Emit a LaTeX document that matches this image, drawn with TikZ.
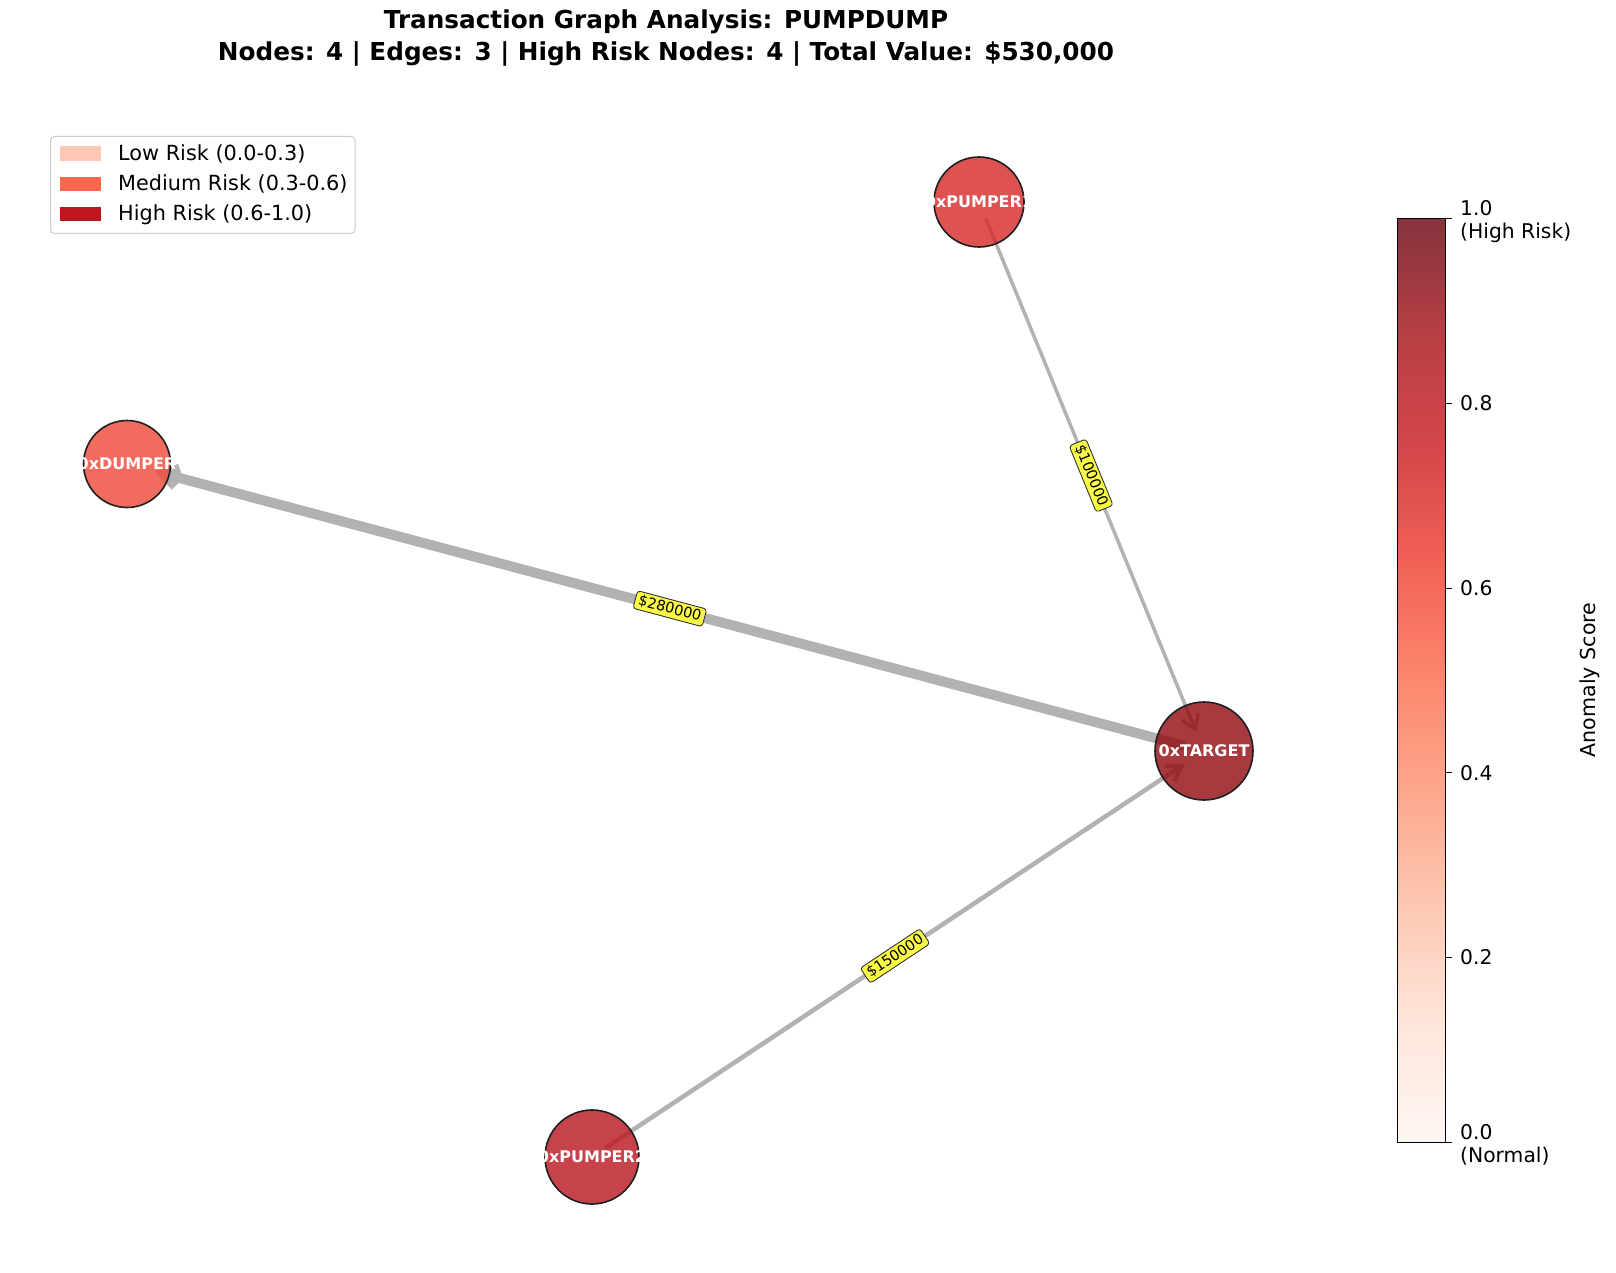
\documentclass[tikz,border=0pt]{standalone}
\usepackage{fontspec}
\setmainfont{DejaVu Sans}
\usetikzlibrary{arrows.meta,calc}
\pgfdeclarelayer{edges}
\pgfsetlayers{edges,main}

% Reds colour map, seen through alpha 0.8
\definecolor{rd0}{RGB}{255,247,243}
\definecolor{rd1}{RGB}{254,230,219}
\definecolor{rd2}{RGB}{253,201,180}
\definecolor{rd3}{RGB}{253,168,142}
\definecolor{rd4}{RGB}{252,136,110}
\definecolor{rd5}{RGB}{242,98,86}
\definecolor{rd6}{RGB}{213,70,74}
\definecolor{rd7}{RGB}{183,63,68}
\definecolor{rd8}{RGB}{133,51,61}
\definecolor{edgegray}{RGB}{178,178,178}
\definecolor{legendgray}{RGB}{204,204,204}
\definecolor{tagyellow}{RGB}{250,250,70}
\definecolor{lowrisk}{RGB}{252,200,180}
\definecolor{medrisk}{RGB}{254,102,77}
\definecolor{highrisk}{RGB}{190,22,30}
\definecolor{colTarget}{RGB}{146,9,16}
\definecolor{colPumperA}{RGB}{216,39,39}
\definecolor{colPumperB}{RGB}{186,20,30}
\definecolor{colDumper}{RGB}{239,71,56}

\pgfdeclareverticalshading{redsbar}{100bp}{color(0bp)=(rd0); color(25bp)=(rd0);
  color(31.25bp)=(rd1); color(37.5bp)=(rd2); color(43.75bp)=(rd3);
  color(50bp)=(rd4); color(56.25bp)=(rd5); color(62.5bp)=(rd6);
  color(68.75bp)=(rd7); color(75bp)=(rd8); color(100bp)=(rd8)}

\begin{document}
\begin{tikzpicture}[x=1pt,y=-1pt,
    acct/.style={circle,draw=black!88,line width=1.6pt,fill opacity=0.8,inner sep=0pt},
    acctname/.style={text=white,inner sep=0pt,font=\fontsize{16}{19}\selectfont\bfseries},
    flow/.style={draw=edgegray,-{Straight Barb[length=14pt,width=18pt]}},
    amount/.style={fill=tagyellow,draw=black!80,line width=0.9pt,rounded corners=3pt,
      inner xsep=3.5pt,inner ysep=2.5pt,sloped,font=\fontsize{14.5}{17}\selectfont},
    title/.style={anchor=base,inner sep=0pt,font=\fontsize{24.7}{29}\selectfont\bfseries},
    legtext/.style={anchor=west,inner sep=0pt,font=\fontsize{20.8}{24}\selectfont},
    ticktext/.style={anchor=west,inner sep=0pt,align=left,font=\fontsize{20.3}{23}\selectfont}]
    \useasboundingbox (0,0) rectangle (1616,1273);

    \node[title] (head) at (666,28.5) {Transaction Graph Analysis: PUMPDUMP};
    \node[title] (stats) at (666,60.5) {Nodes: 4 | Edges: 3 | High Risk Nodes: 4 | Total Value: \$530,000};

    % accounts
    \node[acct,minimum size=90pt,fill=colPumperA,label={[acctname]center:0xPUMPER1}] (pumperA) at (979,202) {};
    \node[acct,minimum size=87pt,fill=colDumper,label={[acctname]center:0xDUMPER}] (dumper) at (127,464) {};
    \node[acct,minimum size=98pt,fill=colTarget,label={[acctname]center:0xTARGET}] (target) at (1204,751) {};
    \node[acct,minimum size=94pt,fill=colPumperB,label={[acctname]center:0xPUMPER2}] (pumperB) at (592,1157) {};

    % transfers, under the accounts
    \begin{pgfonlayer}{edges}
      \fill[white] (0,0) rectangle (1616,1273);
      \draw[flow,line width=3.5pt] ($(pumperA.center)!18pt!(target.center)$)
        -- ($(target.center)!20pt!(pumperA.center)$) node[amount,midway] (amtA) {\$100000};
      \draw[flow,line width=10pt] ($(target.center)!20pt!(dumper.center)$)
        -- ($(dumper.center)!29pt!(target.center)$) node[amount,midway] (amtD) {\$280000};
      \draw[flow,line width=4.5pt] ($(pumperB.center)!16pt!(target.center)$)
        -- ($(target.center)!23pt!(pumperB.center)$) node[amount,midway] (amtB) {\$150000};
    \end{pgfonlayer}

    % legend
    \draw[legendgray,line width=1pt,rounded corners=4pt,fill=white] (50.5,136.5) rectangle (355,233.5);
    \fill[lowrisk] (60,146.5) rectangle ++(41,14.5);
    \fill[medrisk] (60,177) rectangle ++(41,14.5);
    \fill[highrisk] (60,207) rectangle ++(41,14.5);
    \node[legtext] (legLow) at (118,153.5) {Low Risk (0.0-0.3)};
    \node[legtext] (legMed) at (118,184) {Medium Risk (0.3-0.6)};
    \node[legtext] (legHigh) at (118,214.5) {High Risk (0.6-1.0)};

    % colour bar
    \shade[shading=redsbar] (1397,219) rectangle (1445,1142);
    \draw[line width=1pt] (1397,219) rectangle (1445,1142);
    \draw[line width=1pt] (1445,1142) -- ++(7,0);
    \draw[line width=1pt] (1445,957.4) -- ++(7,0);
    \draw[line width=1pt] (1445,772.8) -- ++(7,0);
    \draw[line width=1pt] (1445,588.2) -- ++(7,0);
    \draw[line width=1pt] (1445,403.6) -- ++(7,0);
    \draw[line width=1pt] (1445,219) -- ++(7,0);
    \node[ticktext] (tick0) at (1460,1145) {0.0\\(Normal)};
    \node[ticktext] (tick2) at (1460,957.4) {0.2};
    \node[ticktext] (tick4) at (1460,772.8) {0.4};
    \node[ticktext] (tick6) at (1460,588.2) {0.6};
    \node[ticktext] (tick8) at (1460,403.6) {0.8};
    \node[ticktext] (tick10) at (1460,222) {1.0\\(High Risk)};
    \node[rotate=90,inner sep=0pt,font=\fontsize{20.6}{23}\selectfont] (cblabel) at (1590,680) {Anomaly Score};
\end{tikzpicture}
\end{document}
